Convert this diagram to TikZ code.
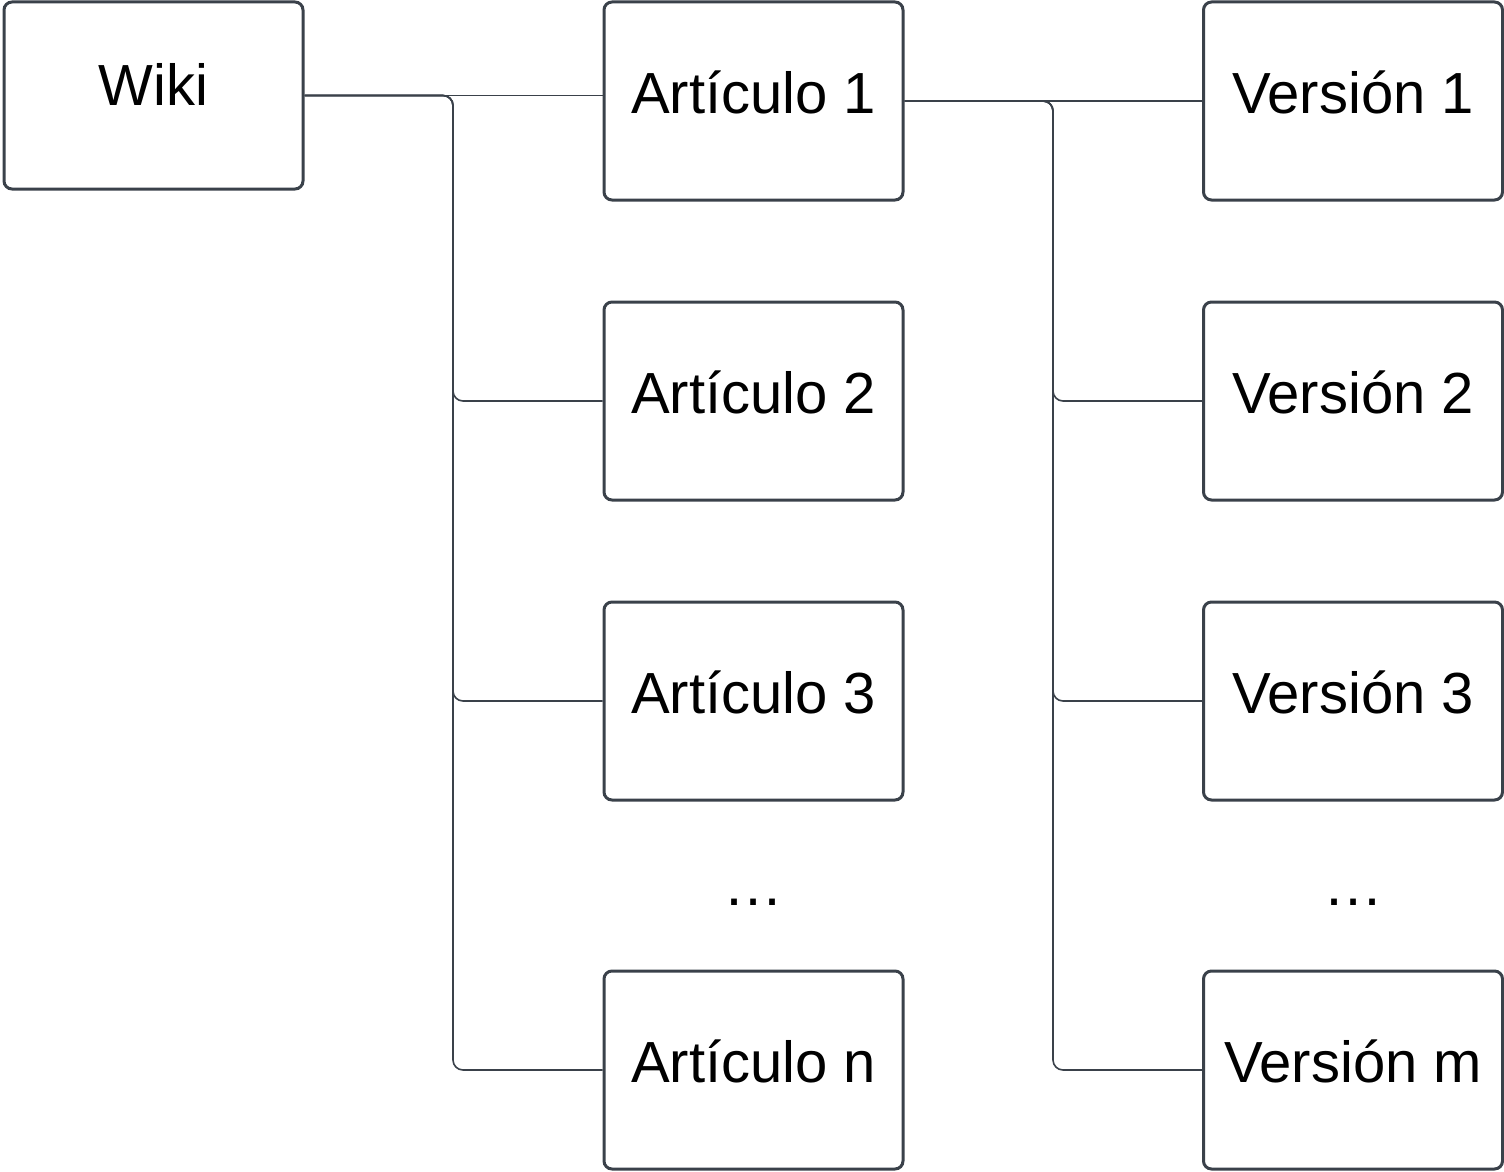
\documentclass[tikz,border=0pt]{standalone}
\usepackage{fontspec}
\setmainfont{Liberation Sans}
\definecolor{edgecol}{HTML}{3A414A}
\begin{document}
\begin{tikzpicture}[x=1pt,y=-1pt,
  box/.style={draw=edgecol, line width=3pt, fill=white, rounded corners=8pt,
    minimum width=299pt, minimum height=198pt, inner sep=0pt,
    font=\fontsize{58}{58}\selectfont, text height=36pt, text depth=12pt},
  conn/.style={draw=edgecol, line width=1.6pt, rounded corners=10pt},
  dotstyle/.style={font=\fontsize{60}{60}\selectfont, anchor=base, inner sep=0pt}]
\useasboundingbox (0,0) rectangle (1504,1172);
\node[box, minimum height=187pt, text height=34pt, text depth=14pt] (wiki) at (153.5,95.5) {Wiki};
\node[box] (art1) at (753.5,101) {Artículo 1};
\node[box] (art2) at (753.5,401) {Artículo 2};
\node[box] (art3) at (753.5,701) {Artículo 3};
\node[box] (artn) at (753.5,1070) {Artículo n};
\node[box] (v1) at (1353,101) {Versión 1};
\node[box] (v2) at (1353,401) {Versión 2};
\node[box] (v3) at (1353,701) {Versión 3};
\node[box] (vm) at (1353,1070) {Versión m};
\node[dotstyle] (dotsA) at (753.5,905) {…};
\node[dotstyle] (dotsB) at (1353,905) {…};
\coordinate (jA) at (453,95.5);
\coordinate (jB) at (1053,101);
\draw[conn] (wiki.east) -- (wiki.east -| art1.west);
\draw[conn] (wiki.east) -- (jA) |- (art2.west);
\draw[conn] (wiki.east) -- (jA) |- (art3.west);
\draw[conn] (wiki.east) -- (jA) |- (artn.west);
\draw[conn] (art1.east) -- (v1.west);
\draw[conn] (art1.east) -- (jB) |- (v2.west);
\draw[conn] (art1.east) -- (jB) |- (v3.west);
\draw[conn] (art1.east) -- (jB) |- (vm.west);
\end{tikzpicture}
\end{document}
